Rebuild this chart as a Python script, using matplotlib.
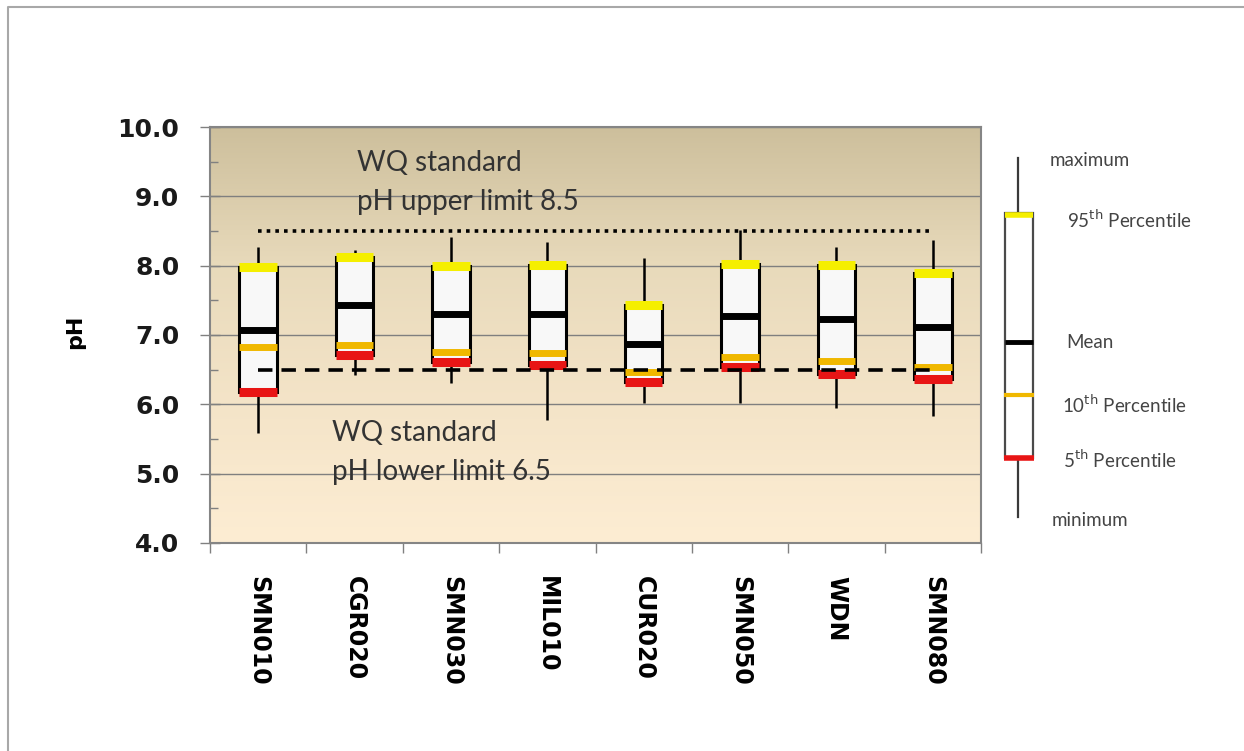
import numpy as np
import matplotlib
matplotlib.use("Agg")
import matplotlib.pyplot as plt
from matplotlib.colors import LinearSegmentedColormap
from matplotlib.patches import Rectangle

# ---- data ----
sites = ["SMN010", "CGR020", "SMN030", "MIL010", "CUR020", "SMN050", "WDN", "SMN080"]
ph_max = [8.27, 8.22, 8.41, 8.34, 8.11, 8.51, 8.27, 8.37]
ph_p95 = [7.98, 8.12, 7.99, 8.01, 7.43, 8.03, 8.01, 7.89]
ph_mean = [7.07, 7.43, 7.31, 7.31, 6.87, 7.27, 7.23, 7.11]
ph_p10 = [6.83, 6.85, 6.75, 6.74, 6.47, 6.68, 6.62, 6.54]
ph_p5 = [6.18, 6.71, 6.61, 6.57, 6.32, 6.54, 6.44, 6.36]
ph_min = [5.58, 6.42, 6.31, 5.77, 6.02, 6.02, 5.95, 5.83]
upper_limit = 8.5
lower_limit = 6.5
y_ticks = [4.0, 5.0, 6.0, 7.0, 8.0, 9.0, 10.0]

W, H = 1244, 751
fig = plt.figure(figsize=(W / 100, H / 100), dpi=100)
fig.patch.set_facecolor("white")

ax = fig.add_axes([210 / W, 1 - 543 / H, (981 - 210) / W, (543 - 127) / H])

# gradient background
grad = np.linspace(0, 1, 256).reshape(-1, 1)
cmap = LinearSegmentedColormap.from_list("bg", ["#fdedd3", "#f4e4c8", "#e8dabb", "#cdbf9c"])
ax.imshow(grad, extent=(-0.5, 7.5, 4, 10), origin="lower", aspect="auto", cmap=cmap, zorder=0)

ax.set_xlim(-0.5, 7.5)
ax.set_ylim(4, 10)

# grid
ax.set_yticks(y_ticks)
ax.set_yticklabels([f"{v:.1f}" for v in y_ticks], fontsize=18, fontweight="bold", color="#1a1a1a")
ax.set_yticks(np.arange(4.5, 10, 1.0), minor=True)
ax.yaxis.grid(True, which="major", color="#7f7f7f", lw=1.0, zorder=0.5)
ax.set_axisbelow(True)
ax.tick_params(axis="y", which="major", direction="inout", length=14, width=1, color="#808080", pad=15)
ax.tick_params(axis="y", which="minor", direction="in", length=6, width=1, color="#808080")

x = np.arange(len(sites))
ax.set_xticks(x)
ax.set_xticklabels(sites, rotation=-90, fontsize=17, fontweight="bold", color="black")
ax.set_xticks(np.arange(-0.5, 8.0, 1.0), minor=True)
ax.tick_params(axis="x", which="major", length=0, pad=24)
ax.tick_params(axis="x", which="minor", direction="out", length=7, width=1, color="#808080")

for s in ax.spines.values():
    s.set_color("#858585")
    s.set_linewidth(1.5)

# boxes
p95 = np.array(ph_p95)
p5 = np.array(ph_p5)
bw = 0.39
ax.vlines(x, p95, ph_max, colors="black", lw=1.8, zorder=2)
ax.vlines(x, ph_min, p5, colors="black", lw=1.8, zorder=2)
ax.bar(x, p95 - p5, bottom=p5, width=bw, color="#f8f8f8", edgecolor="black", linewidth=2.2, zorder=3)
ax.hlines(ph_p95, x - bw / 2, x + bw / 2, colors="#f5ef00", lw=6.5, zorder=4)
ax.hlines(ph_mean, x - bw / 2, x + bw / 2, colors="black", lw=5, zorder=4)
ax.hlines(ph_p10, x - bw / 2, x + bw / 2, colors="#f0b800", lw=5, zorder=4)
ax.hlines(ph_p5, x - bw / 2, x + bw / 2, colors="#e81515", lw=6.5, zorder=4)

# limit lines
ax.hlines(upper_limit, x[0], x[-1], colors="black", lw=2.6, linestyles=(0, (1, 1.4)), zorder=5)
ax.hlines(lower_limit, x[0], x[-1], colors="black", lw=2.6, linestyles=(0, (4, 2.5)), zorder=5)

tfont = dict(family="Lato", fontsize=20, color="#333333", ha="left", va="center")
ax.text(1.03, 9.48, "WQ standard", zorder=6, **tfont)
ax.text(1.03, 8.92, "pH upper limit 8.5", zorder=6, **tfont)
ax.text(0.77, 5.58, "WQ standard", zorder=6, **tfont)
ax.text(0.77, 5.02, "pH lower limit 6.5", zorder=6, **tfont)

fig.text(75 / W, 1 - 332 / H, "pH", rotation=90, fontsize=16, fontweight="bold",
         ha="center", va="center")

# legend / key drawn in pixel coordinates
lg = fig.add_axes([0, 0, 1, 1])
lg.set_xlim(0, W)
lg.set_ylim(H, 0)
lg.axis("off")
lg.patch.set_alpha(0)

lg.plot([1018, 1018], [158, 517], color="#3a3a3a", lw=1.6, zorder=1)
lg.add_patch(Rectangle((1005, 213), 28, 245, facecolor="white", edgecolor="#4a4a4a", lw=1.6, zorder=2))
lg.plot([1005, 1033], [215, 215], color="#f5ef00", lw=4, zorder=3, solid_capstyle="butt")
lg.plot([1005, 1033], [342, 342], color="black", lw=3.5, zorder=3, solid_capstyle="butt")
lg.plot([1004, 1034], [395, 395], color="#f0b800", lw=3, zorder=3, solid_capstyle="butt")
lg.plot([1004, 1034], [458, 458], color="#e81515", lw=4, zorder=3, solid_capstyle="butt")

lfont = dict(family="Lato", fontsize=13.5, color="#444444", ha="left", va="center")
lg.text(1050, 160, "maximum", **lfont)
lg.text(1067, 220, r"95$^{\mathrm{th}}$ Percentile", **lfont)
lg.text(1066, 342, "Mean", **lfont)
lg.text(1062, 405, r"10$^{\mathrm{th}}$ Percentile", **lfont)
lg.text(1063, 460, r"5$^{\mathrm{th}}$ Percentile", **lfont)
lg.text(1052, 520, "minimum", **lfont)

# outer border
lg.plot([8, 8, W], [H, 7, 7], color="#a8a8a8", lw=1.5)

fig.savefig("out.png", dpi=100)
